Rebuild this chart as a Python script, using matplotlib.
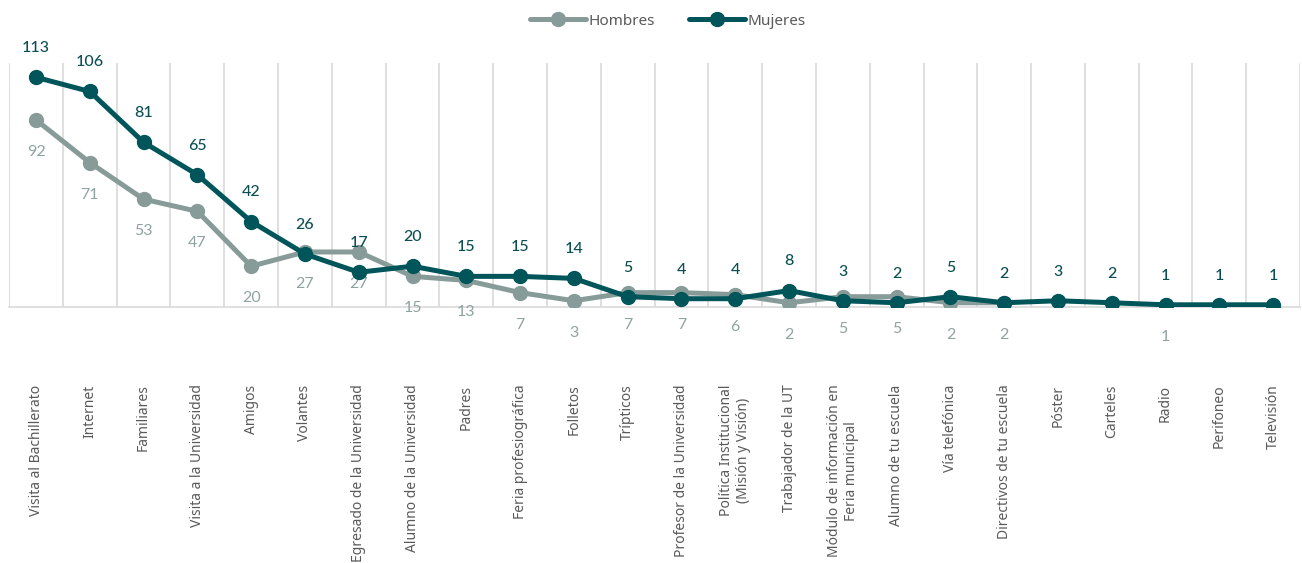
import numpy as np
import matplotlib
matplotlib.use("Agg")
import matplotlib.pyplot as plt

categorias = [
    "Visita al Bachillerato", "Internet", "Familiares", "Visita a la Universidad",
    "Amigos", "Volantes", "Egresado de la Universidad", "Alumno de la Universidad",
    "Padres", "Feria profesiográfica", "Folletos", "Trípticos",
    "Profesor de la Universidad", "Política Institucional\n(Misión y Visión)",
    "Trabajador de la UT", "Módulo de información en\nFeria municipal",
    "Alumno de tu escuela", "Vía telefónica", "Directivos de tu escuela",
    "Póster", "Carteles", "Radio", "Perifoneo", "Televisión",
]
hombres = [92, 71, 53, 47, 20, 27, 27, 15, 13, 7, 3, 7, 7, 6, 2, 5, 5, 2, 2,
           np.nan, np.nan, 1, np.nan, np.nan]
mujeres = [113, 106, 81, 65, 42, 26, 17, 20, 15, 15, 14, 5, 4, 4, 8, 3, 2, 5, 2,
           3, 2, 1, 1, 1]

col_h = "#879c99"
col_m = "#00555a"
plt.rcParams['font.family'] = ['Noto Sans', 'DejaVu Sans']

fig = plt.figure(figsize=(13.02, 5.63), dpi=100)
ax = fig.add_axes([0.007, 0.455, 0.9915, 0.433])

x = np.arange(len(categorias))
ax.plot(x, hombres, color=col_h, lw=3.6, marker='o', ms=10, label="Hombres",
        solid_capstyle='round', zorder=3)
ax.plot(x, mujeres, color=col_m, lw=3.6, marker='o', ms=10, label="Mujeres",
        solid_capstyle='round', zorder=4)

# etiquetas de datos
for xi, v in zip(x, hombres):
    if not np.isnan(v):
        ax.annotate(f"{int(v)}", (xi, v), xytext=(0, -23), textcoords='offset points',
                    ha='center', va='center', fontsize=11.5, color="#8fa3a1",
                    family='Lato')
for xi, v in zip(x, mujeres):
    ax.annotate(f"{int(v)}", (xi, v), xytext=(0, 21), textcoords='offset points',
                ha='center', va='center', fontsize=11.5, color="#0b4f53",
                family='Lato', fontweight='medium')

ax.set_xlim(-0.5, len(categorias) - 0.5)
ax.set_ylim(0, 120)
for b in np.arange(-0.5, len(categorias), 1.0):
    ax.axvline(b, color="#d9d9d9", lw=1.2, zorder=1)

ax.set_xticks(x)
ax.set_xticklabels(categorias, rotation=90, fontsize=10, color="#595959",
                   ha='center', va='top', multialignment='center')
ax.tick_params(axis='x', length=0, pad=56)
ax.set_yticks([])
for s in ['top', 'left', 'right']:
    ax.spines[s].set_visible(False)
ax.spines['bottom'].set_color("#d9d9d9")
ax.spines['bottom'].set_linewidth(1.2)

leg = fig.legend(loc='upper center', bbox_to_anchor=(0.513, 1.0), ncol=2, frameon=False,
                 fontsize=11, handlelength=3.7, columnspacing=2.2, handletextpad=0.15)
for t in leg.get_texts():
    t.set_color("#595959")

fig.savefig("out.png", dpi=100)
